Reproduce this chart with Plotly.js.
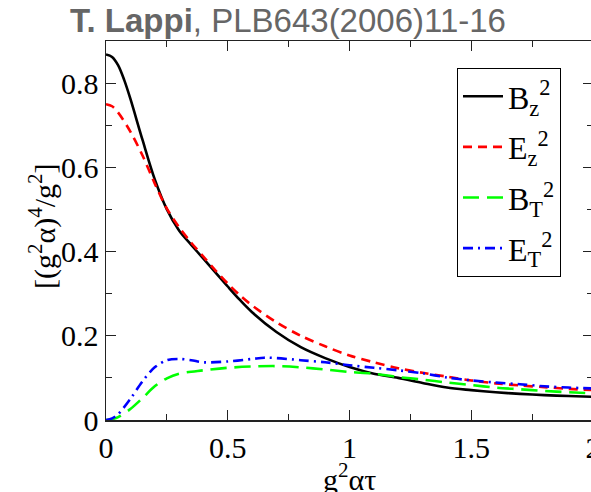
<!DOCTYPE html>
<html>
<head>
<meta charset="utf-8">
<script src="https://cdn.plot.ly/plotly-3.0.1.min.js"></script>
<style>
html,body{margin:0;padding:0;overflow:hidden;background:#fff;}
#chart{width:600px;height:492px;}
#chart svg text, #chart svg tspan { font-family: "Liberation Serif", "Times New Roman", serif !important; }
#chart svg text.gtitle, #chart svg text.gtitle tspan { font-family: "Liberation Sans", Arial, sans-serif !important; }
</style>
</head>
<body>
<div id="chart"></div>
<script>
// x values (g^2 α τ)
const xBz = [0, 0.025, 0.05, 0.075, 0.1, 0.15, 0.2, 0.25, 0.3, 0.35, 0.4, 0.45, 0.5, 0.55, 0.6, 0.7, 0.8, 0.9, 1.0, 1.1, 1.2, 1.3, 1.4, 1.5, 1.6, 1.7, 1.8, 1.9, 2.0];
const yBz = [0.868, 0.862, 0.842, 0.807, 0.763, 0.665, 0.572, 0.500, 0.450, 0.416, 0.383, 0.350, 0.317, 0.285, 0.256, 0.209, 0.173, 0.147, 0.126, 0.110, 0.100, 0.088, 0.077, 0.071, 0.066, 0.062, 0.059, 0.057, 0.055];

const xEz = [0, 0.025, 0.05, 0.1, 0.15, 0.2, 0.25, 0.3, 0.35, 0.4, 0.45, 0.5, 0.55, 0.6, 0.7, 0.8, 0.9, 1.0, 1.1, 1.2, 1.3, 1.4, 1.5, 1.6, 1.7, 1.8, 1.9, 2.0];
const yEz = [0.750, 0.745, 0.730, 0.685, 0.628, 0.562, 0.502, 0.458, 0.421, 0.388, 0.355, 0.324, 0.296, 0.272, 0.232, 0.200, 0.175, 0.153, 0.137, 0.123, 0.112, 0.103, 0.094, 0.087, 0.082, 0.078, 0.074, 0.071];

const xBT = [0, 0.025, 0.05, 0.1, 0.15, 0.2, 0.25, 0.3, 0.4, 0.5, 0.6, 0.7, 0.8, 0.9, 1.0, 1.1, 1.2, 1.3, 1.4, 1.5, 1.6, 1.7, 1.8, 1.9, 2.0];
const yBT = [0, 0.002, 0.007, 0.026, 0.052, 0.080, 0.099, 0.110, 0.118, 0.124, 0.127, 0.128, 0.125, 0.120, 0.114, 0.110, 0.102, 0.096, 0.089, 0.083, 0.077, 0.073, 0.069, 0.066, 0.063];

const xET = [0, 0.025, 0.05, 0.1, 0.15, 0.2, 0.25, 0.3, 0.35, 0.4, 0.5, 0.6, 0.65, 0.7, 0.8, 0.9, 1.0, 1.1, 1.2, 1.3, 1.4, 1.5, 1.6, 1.7, 1.8, 1.9, 2.0];
const yET = [0, 0.004, 0.014, 0.050, 0.092, 0.125, 0.142, 0.145, 0.142, 0.137, 0.139, 0.145, 0.148, 0.147, 0.142, 0.137, 0.130, 0.124, 0.118, 0.111, 0.101, 0.094, 0.089, 0.085, 0.080, 0.077, 0.075];

const names = ['B<sub>z</sub><sup>2</sup>', 'E<sub>z</sub><sup>2</sup>', 'B<sub>T</sub><sup>2</sup>', 'E<sub>T</sub><sup>2</sup>'];
const xTickVals = [0, 0.5, 1, 1.5, 2];
const xTickText = ['0', '0.5', '1', '1.5', '2'];
const yTickVals = [0, 0.2, 0.4, 0.6, 0.8];
const yTickText = ['0', '0.2', '0.4', '0.6', '0.8'];
const xTitle = 'g<sup>2</sup>ατ';
const yTitle = '[(g<sup>2</sup>α)<sup>4</sup>/g<sup>2</sup>]';

const SERIF = 'Liberation Serif';

const traces = [
  {x: xBz, y: yBz, name: names[0], legendgroup: 'a', mode: 'lines', line: {color: '#000000', width: 2.6, shape: 'spline', smoothing: 0.9}},
  {x: xEz, y: yEz, name: names[1], legendgroup: 'b', mode: 'lines', line: {color: '#ff0000', width: 2.6, dash: '9px,6px', shape: 'spline', smoothing: 0.9}},
  {x: xBT, y: yBT, name: names[2], legendgroup: 'c', mode: 'lines', line: {color: '#00ff00', width: 2.6, dash: '16px,8px', shape: 'spline', smoothing: 0.9}},
  {x: xET, y: yET, name: names[3], legendgroup: 'd', mode: 'lines', line: {color: '#0000ff', width: 2.6, dash: '10px,5px,2px,5px', shape: 'spline', smoothing: 0.9}}
];

const layout = {
  width: 600, height: 492,
  margin: {l: 106, r: 7, t: 41, b: 72, pad: 0},
  font: {family: SERIF, size: 30, color: '#000'},
  paper_bgcolor: '#fff', plot_bgcolor: '#fff',
  title: {
    text: '<b>T. Lappi</b>, PLB643(2006)11-16',
    font: {family: 'Liberation Sans', size: 33, color: '#666'},
    x: 288 / 600, xref: 'container', xanchor: 'center',
    y: 1 - 20 / 492, yref: 'container', yanchor: 'middle'
  },
  xaxis: {
    range: [0, 2], tickvals: xTickVals, ticktext: xTickText,
    showgrid: false, zeroline: false, showline: true, linecolor: '#222', linewidth: 1.5,
    mirror: 'ticks', ticks: 'inside', ticklen: 10, tickwidth: 1.2, tickcolor: '#222',
    tickfont: {family: SERIF, size: 30, color: '#000'},
    ticklabeloverflow: 'allow',
    minor: {dtick: 0.25, ticks: 'inside', ticklen: 6, tickwidth: 1.2, tickcolor: '#222'}
  },
  yaxis: {
    range: [0, 0.9], tickvals: yTickVals, ticktext: yTickText,
    showgrid: false, zeroline: false, showline: true, linecolor: '#222', linewidth: 1.5,
    mirror: 'ticks', ticks: 'inside', ticklen: 10, tickwidth: 1.2, tickcolor: '#222',
    tickfont: {family: SERIF, size: 30, color: '#000'},
    minor: {dtick: 0.1, ticks: 'inside', ticklen: 6, tickwidth: 1.2, tickcolor: '#222'}
  },
  annotations: [
    {text: xTitle, xref: 'paper', yref: 'paper', x: 0.5, xanchor: 'center',
     y: -(477 - 420) / 379, yanchor: 'middle', showarrow: false,
     font: {family: SERIF, size: 30, color: '#000'}},
    {text: yTitle, xref: 'paper', yref: 'paper', textangle: -90,
     x: -(106 - 42) / 487, xanchor: 'center', y: (420 - 226) / 379, yanchor: 'middle', showarrow: false,
     font: {family: SERIF, size: 30, color: '#000'}}
  ],
  legend: {
    x: (457 - 106) / 487, y: (420 - 68) / 379, xanchor: 'left', yanchor: 'top',
    xref: 'paper', yref: 'paper',
    bgcolor: '#fff', bordercolor: '#000', borderwidth: 1,
    font: {family: SERIF, size: 32, color: '#000'},
    traceorder: 'grouped', tracegroupgap: 6,
    itemwidth: 40
  },
  showlegend: true
};

Plotly.newPlot('chart', traces, layout, {displayModeBar: false, staticPlot: true});
</script>
</body>
</html>
